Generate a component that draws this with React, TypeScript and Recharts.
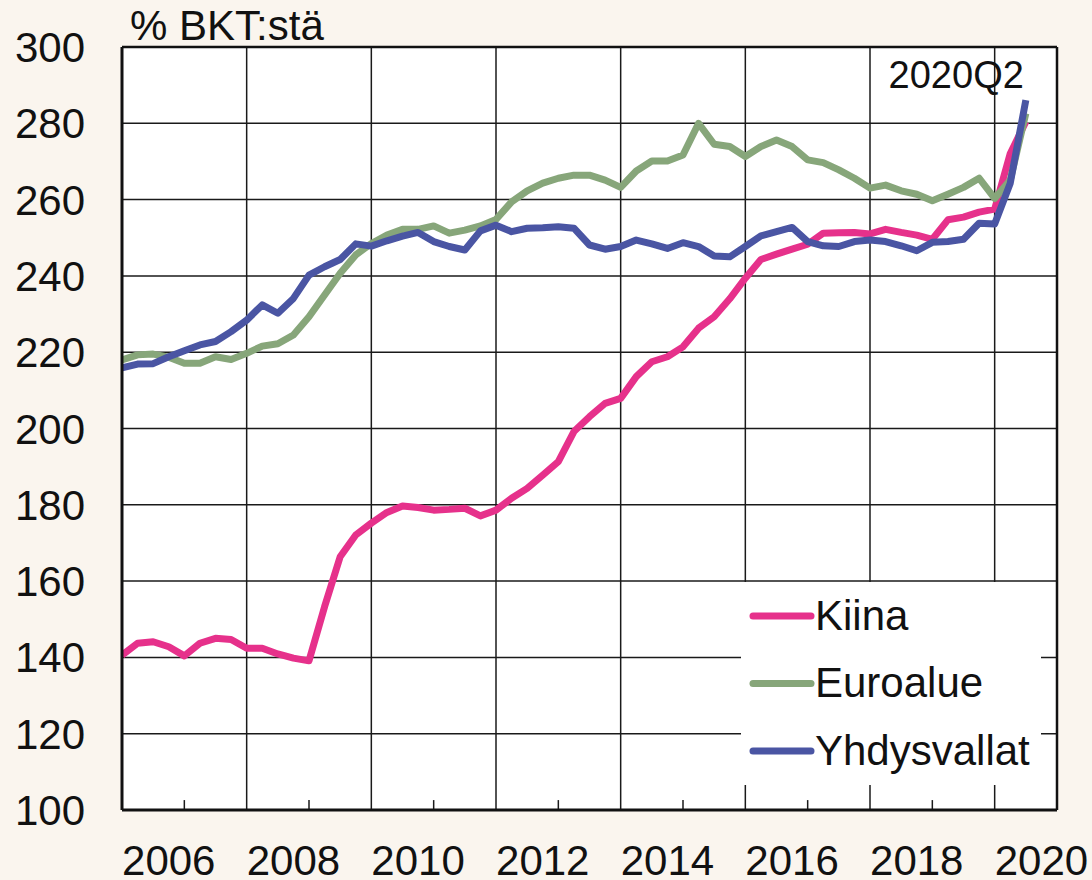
import React from 'react';
import {
  LineChart,
  Line,
  XAxis,
  YAxis,
  CartesianGrid,
  ReferenceLine,
  ReferenceDot,
  Legend,
} from 'recharts';

// First observation: 2005Q4, last: 2020Q2 (quarterly)
const FIRST_YEAR = 2005;
const FIRST_QUARTER = 4;

const kiina = [
  140.6, 143.7, 144.1, 142.8, 140.4, 143.7, 145.0, 144.7, 142.4, 142.4,
  140.9, 139.8, 139.1, 153.3, 166.4, 172.1, 175.2, 178.0, 179.7, 179.3,
  178.6, 178.8, 179.1, 177.1, 178.6, 181.7, 184.3, 187.8, 191.3, 199.2,
  203.1, 206.6, 207.9, 213.6, 217.5, 218.8, 221.4, 226.3, 229.3, 234.0,
  239.4, 244.3, 245.7, 247.0, 248.3, 251.2, 251.3, 251.4, 251.0, 252.2,
  251.4, 250.7, 249.6, 254.7, 255.4, 256.7, 257.5, 272.1, 280.4,
];

const euroalue = [
  218.0, 219.3, 219.5, 218.7, 217.1, 217.1, 218.8, 218.1, 219.7, 221.6,
  222.2, 224.5, 229.3, 235.0, 240.7, 245.5, 248.5, 250.7, 252.2, 252.2,
  253.1, 251.2, 252.0, 253.1, 254.8, 259.4, 262.3, 264.3, 265.6, 266.4,
  266.4, 265.1, 263.2, 267.5, 270.1, 270.1, 271.7, 280.0, 274.5, 273.9,
  271.3, 273.9, 275.6, 273.9, 270.4, 269.7, 267.8, 265.6, 263.0, 263.8,
  262.3, 261.4, 259.7, 261.4, 263.2, 265.6, 260.3, 265.1, 282.6,
];

const yhdysvallat = [
  215.9, 216.9, 217.0, 218.8, 220.4, 221.9, 222.8, 225.4, 228.4, 232.4,
  230.2, 234.1, 240.2, 242.4, 244.3, 248.4, 247.8, 249.2, 250.4, 251.4,
  249.0, 247.7, 246.8, 251.8, 253.3, 251.6, 252.5, 252.6, 252.9, 252.5,
  248.1, 247.0, 247.7, 249.4, 248.4, 247.2, 248.7, 247.7, 245.2, 245.0,
  247.7, 250.5, 251.6, 252.7, 249.0, 247.9, 247.7, 249.0, 249.4, 249.0,
  247.9, 246.6, 248.8, 249.0, 249.6, 253.8, 253.6, 264.3, 286.1,
];

const yearLabels = [2006, 2008, 2010, 2012, 2014, 2016, 2018, 2020];
const gridQuarters = ['2007Q4', '2009Q4', '2011Q4', '2013Q4', '2015Q4', '2017Q4', '2019Q4'];
const minorTickQuarters = ['2006Q4', '2008Q4', '2010Q4', '2012Q4', '2014Q4', '2016Q4', '2018Q4'];
const axisStartQuarter = '2005Q4';
const axisEndQuarter = '2020Q4';
const yTicks = [100, 120, 140, 160, 180, 200, 220, 240, 260, 280, 300];
const seriesNames = ['Kiina', 'Euroalue', 'Yhdysvallat'];
const annotationText = '2020Q2';
const unitText = '% BKT:stä';

const PINK = '#E6318B';
const GREEN = '#87A67A';
const BLUE = '#4A55A3';
const BG = '#FAF5EE';
const FONT = '"Liberation Sans", Arial, Helvetica, sans-serif';

const quarterToT = (q: string) => {
  const [y, qq] = q.split('Q');
  return Number(y) + (Number(qq) - 1) / 4;
};

const data = kiina.map((v, i) => {
  const qIndex = FIRST_QUARTER - 1 + i;
  const year = FIRST_YEAR + Math.floor(qIndex / 4);
  const quarter = (qIndex % 4) + 1;
  return {
    quarter: `${year}Q${quarter}`,
    t: year + (quarter - 1) / 4,
    kiina: v,
    euroalue: euroalue[i],
    yhdysvallat: yhdysvallat[i],
  };
});

const lastPoint = data[data.length - 1];

const legendItems = [
  { name: seriesNames[0], color: PINK },
  { name: seriesNames[1], color: GREEN },
  { name: seriesNames[2], color: BLUE },
];

const renderLegend = () => (
  <svg width={300} height={203} style={{ display: 'block' }}>
    {legendItems.map((it, k) => (
      <g key={it.name}>
        <line
          x1={12}
          x2={70}
          y1={34 + 67.5 * k}
          y2={34 + 67.5 * k}
          stroke={it.color}
          strokeWidth={7}
          strokeLinecap="round"
        />
        <text x={74} y={47.5 + 67.5 * k} fontSize={42} fontFamily={FONT} fill="#111">
          {it.name}
        </text>
      </g>
    ))}
  </svg>
);

const XTick = (props: any) => {
  const { x, y, payload } = props;
  return (
    <text x={x} y={y + 65} textAnchor="middle" fontSize={42} fontFamily={FONT} fill="#111">
      {Math.floor(payload.value)}
    </text>
  );
};

const YTick = (props: any) => {
  const { x, y, payload } = props;
  return (
    <text x={x - 37} y={y + 15} textAnchor="end" fontSize={42} fontFamily={FONT} fill="#111">
      {payload.value}
    </text>
  );
};

export default function App() {
  const x0 = quarterToT(axisStartQuarter);
  const x1 = quarterToT(axisEndQuarter);
  return (
    <div
      style={{
        position: 'absolute',
        left: 0,
        top: 0,
        width: 1092,
        height: 880,
        background: BG,
        fontFamily: FONT,
      }}
    >
      <LineChart
        width={1092}
        height={880}
        data={data}
        margin={{ top: 47, right: 35, bottom: 10, left: 0 }}
      >
        <CartesianGrid vertical={false} stroke="#1a1a1a" strokeWidth={1.5} fill="#ffffff" fillOpacity={1} />
        <XAxis
          dataKey="t"
          type="number"
          domain={[x0, x1]}
          ticks={yearLabels.map((y) => y + 0.5)}
          tick={<XTick />}
          tickLine={false}
          tickSize={0}
          tickMargin={0}
          height={60}
          interval={0}
          axisLine={{ stroke: '#111', strokeWidth: 3 }}
          allowDataOverflow
        />
        <YAxis
          type="number"
          domain={[100, 300]}
          ticks={yTicks}
          tick={<YTick />}
          tickLine={false}
          tickSize={0}
          tickMargin={0}
          width={122}
          interval={0}
          axisLine={{ stroke: '#111', strokeWidth: 3 }}
          label={{
            content: (p: any) => {
              const vb = p.viewBox || { x: 0, y: 47, width: 122 };
              return (
                <text
                  x={vb.x + vb.width + 8}
                  y={vb.y - 7}
                  fontSize={42}
                  fontFamily={FONT}
                  fill="#111"
                >
                  {unitText}
                </text>
              );
            },
          }}
        />
        {gridQuarters.map((q) => (
          <ReferenceLine key={q} x={quarterToT(q)} stroke="#1a1a1a" strokeWidth={1.5} />
        ))}
        {minorTickQuarters.map((q) => (
          <ReferenceLine
            key={'m' + q}
            segment={[
              { x: quarterToT(q), y: 100 },
              { x: quarterToT(q), y: 102.6 },
            ]}
            stroke="#1a1a1a"
            strokeWidth={1.5}
          />
        ))}
        <ReferenceLine y={300} stroke="#111" strokeWidth={2.5} />
        <ReferenceLine x={x1} stroke="#111" strokeWidth={2.5} />
        <Line
          type="linear"
          dataKey="kiina"
          name={seriesNames[0]}
          stroke={PINK}
          strokeWidth={7}
          dot={false}
          strokeLinejoin="round"
          isAnimationActive={false}
        />
        <Line
          type="linear"
          dataKey="euroalue"
          name={seriesNames[1]}
          stroke={GREEN}
          strokeWidth={7}
          dot={false}
          strokeLinejoin="round"
          isAnimationActive={false}
        />
        <Line
          type="linear"
          dataKey="yhdysvallat"
          name={seriesNames[2]}
          stroke={BLUE}
          strokeWidth={7}
          dot={false}
          strokeLinejoin="round"
          isAnimationActive={false}
        />
        <ReferenceDot
          x={lastPoint.t}
          y={289.3}
          r={1}
          fill="none"
          stroke="none"
          label={{
            content: (p: any) => {
              const vb = p.viewBox || { x: 0, y: 0 };
              return (
                <text
                  x={vb.x - 1}
                  y={vb.y + 1}
                  textAnchor="end"
                  fontSize={38}
                  fontFamily={FONT}
                  fill="#111"
                >
                  {annotationText}
                </text>
              );
            },
          }}
        />
        <Legend
          layout="horizontal"
          verticalAlign="middle"
          align="center"
          content={renderLegend}
          wrapperStyle={{
            left: 741,
            top: 582,
            right: 'auto',
            bottom: 'auto',
            width: 300,
            height: 203,
            background: '#ffffff',
          }}
        />
      </LineChart>
    </div>
  );
}
